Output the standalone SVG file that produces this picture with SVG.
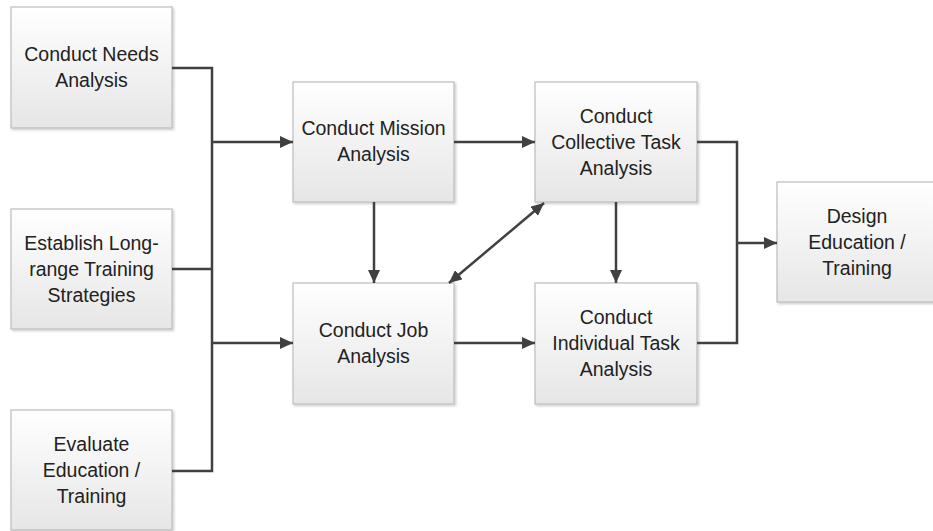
<svg xmlns="http://www.w3.org/2000/svg" width="933" height="531" viewBox="0 0 933 531">
<defs>
<linearGradient id="g" x1="0" y1="0" x2="0" y2="1">
<stop offset="0" stop-color="#ffffff"/>
<stop offset="1" stop-color="#e6e6e6"/>
</linearGradient>
<filter id="sh" x="-5%" y="-5%" width="115%" height="115%">
<feDropShadow dx="1.5" dy="1.5" stdDeviation="1" flood-color="#000" flood-opacity="0.2"/>
</filter>
<marker id="ah" markerUnits="userSpaceOnUse" markerWidth="14" markerHeight="12" refX="13" refY="6" orient="auto-start-reverse">
<path d="M0,0 L13,6 L0,12 Z" fill="#404040"/>
</marker>
</defs>
<style>
.box{fill:url(#g);stroke:#bdbdbd;stroke-width:1.2;filter:url(#sh)}
.t{font-family:"Liberation Sans",Arial,sans-serif;font-size:19.5px;fill:#222222;text-anchor:middle}
.c{fill:none;stroke:#404040;stroke-width:2.5}
.a{marker-end:url(#ah)}
</style>
<g id="needs"><rect class="box" x="11" y="7" width="161" height="121"/><text class="t" x="91.5" y="61">Conduct Needs</text><text class="t" x="91.5" y="87">Analysis</text></g>
<g id="establish"><rect class="box" x="11" y="209" width="161" height="120"/><text class="t" x="91.5" y="249.5">Establish Long-</text><text class="t" x="91.5" y="275.5">range Training</text><text class="t" x="91.5" y="301.5">Strategies</text></g>
<g id="evaluate"><rect class="box" x="11" y="410" width="161" height="120"/><text class="t" x="91.5" y="450.5">Evaluate</text><text class="t" x="91.5" y="476.5">Education /</text><text class="t" x="91.5" y="502.5">Training</text></g>
<g id="mission"><rect class="box" x="293" y="82" width="161" height="120"/><text class="t" x="373.5" y="135">Conduct Mission</text><text class="t" x="373.5" y="161">Analysis</text></g>
<g id="collective"><rect class="box" x="535" y="82" width="162" height="120"/><text class="t" x="616" y="122.5">Conduct</text><text class="t" x="616" y="148.5">Collective Task</text><text class="t" x="616" y="174.5">Analysis</text></g>
<g id="job"><rect class="box" x="293" y="283" width="161" height="121"/><text class="t" x="373.5" y="337">Conduct Job</text><text class="t" x="373.5" y="363">Analysis</text></g>
<g id="individual"><rect class="box" x="535" y="283" width="162" height="121"/><text class="t" x="616" y="324">Conduct</text><text class="t" x="616" y="350">Individual Task</text><text class="t" x="616" y="376">Analysis</text></g>
<g id="design"><rect class="box" x="777" y="182" width="160" height="120"/><text class="t" x="857" y="222.5">Design</text><text class="t" x="857" y="248.5">Education /</text><text class="t" x="857" y="274.5">Training</text></g>
<g id="connectors">
<path class="c" d="M172,68 H212 V471 H172"/>
<path class="c" d="M172,269 H212"/>
<path class="c a" d="M212,142 H293"/>
<path class="c a" d="M212,343 H293"/>
<path class="c a" d="M454,142 H535"/>
<path class="c a" d="M454,343 H535"/>
<path class="c a" d="M374,202 V283"/>
<path class="c a" d="M616,202 V283"/>
<path class="c a" d="M449,283 L544,203" style="marker-start:url(#ah)"/>
<path class="c" d="M697,142 H737 V343 H697"/>
<path class="c a" d="M737,243 H777"/>
</g>
</svg>
